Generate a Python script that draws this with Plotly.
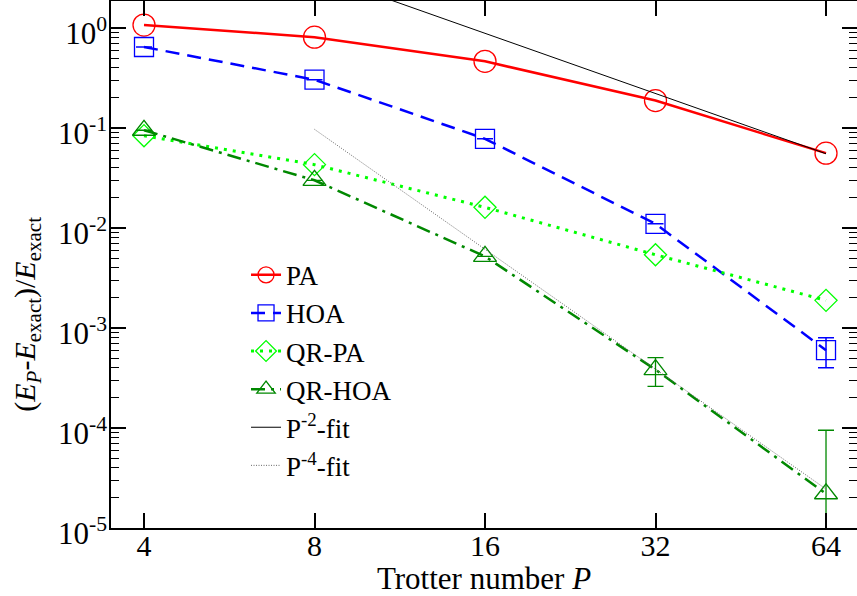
import plotly.graph_objects as go

# ---- data ----
trotter_P = [4, 8, 16, 32, 64]
pa = [1.07, 0.81, 0.464, 0.188, 0.056]
hoa = [0.646, 0.304, 0.078, 0.011, 0.0006]
hoa_err = [0, 0, 0, 0, 0.0002]
qr_pa = [0.0838, 0.043, 0.0161, 0.0054, 0.00189]
qr_hoa = [0.095, 0.030, 0.0052, 0.000383, 0.000022]
qr_hoa_err = [0, 0, 0, 0.000122, 0.000073]

fit2_P = [8, 64]
fit2_y = [3.54, 0.0553]
fit4_P = [8, 64]
fit4_y = [0.097, 0.0000245]

ytick_vals = [1e-5, 1e-4, 1e-3, 1e-2, 1e-1, 1e0]
ytick_text = ["10<sup>-5</sup>", "10<sup>-4</sup>", "10<sup>-3</sup>",
              "10<sup>-2</sup>", "10<sup>-1</sup>", "10<sup>0</sup>"]
xtick_vals = [4, 8, 16, 32, 64]
xtick_text = ["4", "8", "16", "32", "64"]

FONT = "'Liberation Serif', 'Times New Roman', serif"

fig = go.Figure()

fig.add_trace(go.Scatter(
    x=trotter_P, y=pa, name="PA", mode="lines+markers",
    line=dict(color="#ff0000", width=2.5),
    marker=dict(symbol="circle-open", size=22, color="#ff0000", line=dict(width=1.3)),
))
fig.add_trace(go.Scatter(
    x=trotter_P, y=hoa, name="HOA", mode="lines+markers",
    line=dict(color="#0000ff", width=2.5, dash="14px,8px"),
    marker=dict(symbol="square-open", size=19, color="#0000ff", line=dict(width=1.3)),
    error_y=dict(type="data", array=hoa_err, color="#0000ff", thickness=1.5, width=8),
))
fig.add_trace(go.Scatter(
    x=trotter_P, y=qr_pa, name="QR-PA", mode="lines+markers",
    line=dict(color="#00ff00", width=3, dash="3px,6px"),
    marker=dict(symbol="diamond-open", size=17, color="#00ff00", line=dict(width=1.3)),
))
fig.add_trace(go.Scatter(
    x=trotter_P, y=qr_hoa, name="QR-HOA", mode="lines+markers",
    line=dict(color="#008800", width=2.5, dash="14px,6px,3px,6px"),
    marker=dict(symbol="triangle-up-open", size=20, color="#008800", line=dict(width=1.3)),
    error_y=dict(type="data", array=qr_hoa_err, color="#008800", thickness=1.3, width=8),
))
fig.add_trace(go.Scatter(
    x=fit2_P, y=fit2_y, name="P<sup>-2</sup>-fit", mode="lines",
    line=dict(color="#000000", width=1),
))
fig.add_trace(go.Scatter(
    x=fit4_P, y=fit4_y, name="P<sup>-4</sup>-fit", mode="lines",
    line=dict(color="#666666", width=1, dash="1px,1.5px"),
))

fig.update_layout(
    width=857, height=596,
    margin=dict(l=111, r=0, t=1, b=68, autoexpand=False),
    paper_bgcolor="white", plot_bgcolor="white",
    font=dict(family=FONT, size=31, color="black"),
    showlegend=True,
    legend=dict(
        x=0.181, y=0.526, xanchor="left", yanchor="top",
        font=dict(family=FONT, size=27, color="black"),
        bgcolor="rgba(0,0,0,0)", borderwidth=0,
        tracegroupgap=0,
    ),
)

fig.update_xaxes(
    type="log", range=[0.5438, 1.8609], automargin=False,
    tickmode="array", tickvals=xtick_vals, ticktext=xtick_text,
    ticks="inside", ticklen=15, tickwidth=1.5, tickcolor="black",
    showline=True, linecolor="black", linewidth=1.5, mirror="ticks",
    showgrid=False, zeroline=False,
    tickfont=dict(family=FONT, size=30),
    ticklabelstandoff=-10,
    title=dict(text="Trotter number <i>P</i>", font=dict(family=FONT, size=31), standoff=3),
)
fig.update_yaxes(
    type="log", range=[-5, 0.27], automargin=False,
    tickmode="array", tickvals=ytick_vals, ticktext=ytick_text,
    ticks="inside", ticklen=15, tickwidth=1.5, tickcolor="black",
    minor=dict(ticks="inside", ticklen=8, tickwidth=1.2, tickcolor="black", dtick="D1", showgrid=False),
    showline=True, linecolor="black", linewidth=1.5, mirror="ticks",
    showgrid=False, zeroline=False,
    tickfont=dict(family=FONT, size=31),
    ticklabelstandoff=-4, ticklabelshift=5,
)

fig.add_annotation(
    text="(<i>E</i><sub><i>P</i></sub>-<i>E</i><sub>exact</sub>)/<i>E</i><sub>exact</sub>",
    xref="paper", yref="paper", x=-0.113, y=0.406,
    xanchor="center", yanchor="middle", textangle=-90, showarrow=False,
    font=dict(family=FONT, size=30, color="black"),
)

fig.write_html("out.html", config={"displayModeBar": False},
               post_script="document.body.style.margin='0';")
